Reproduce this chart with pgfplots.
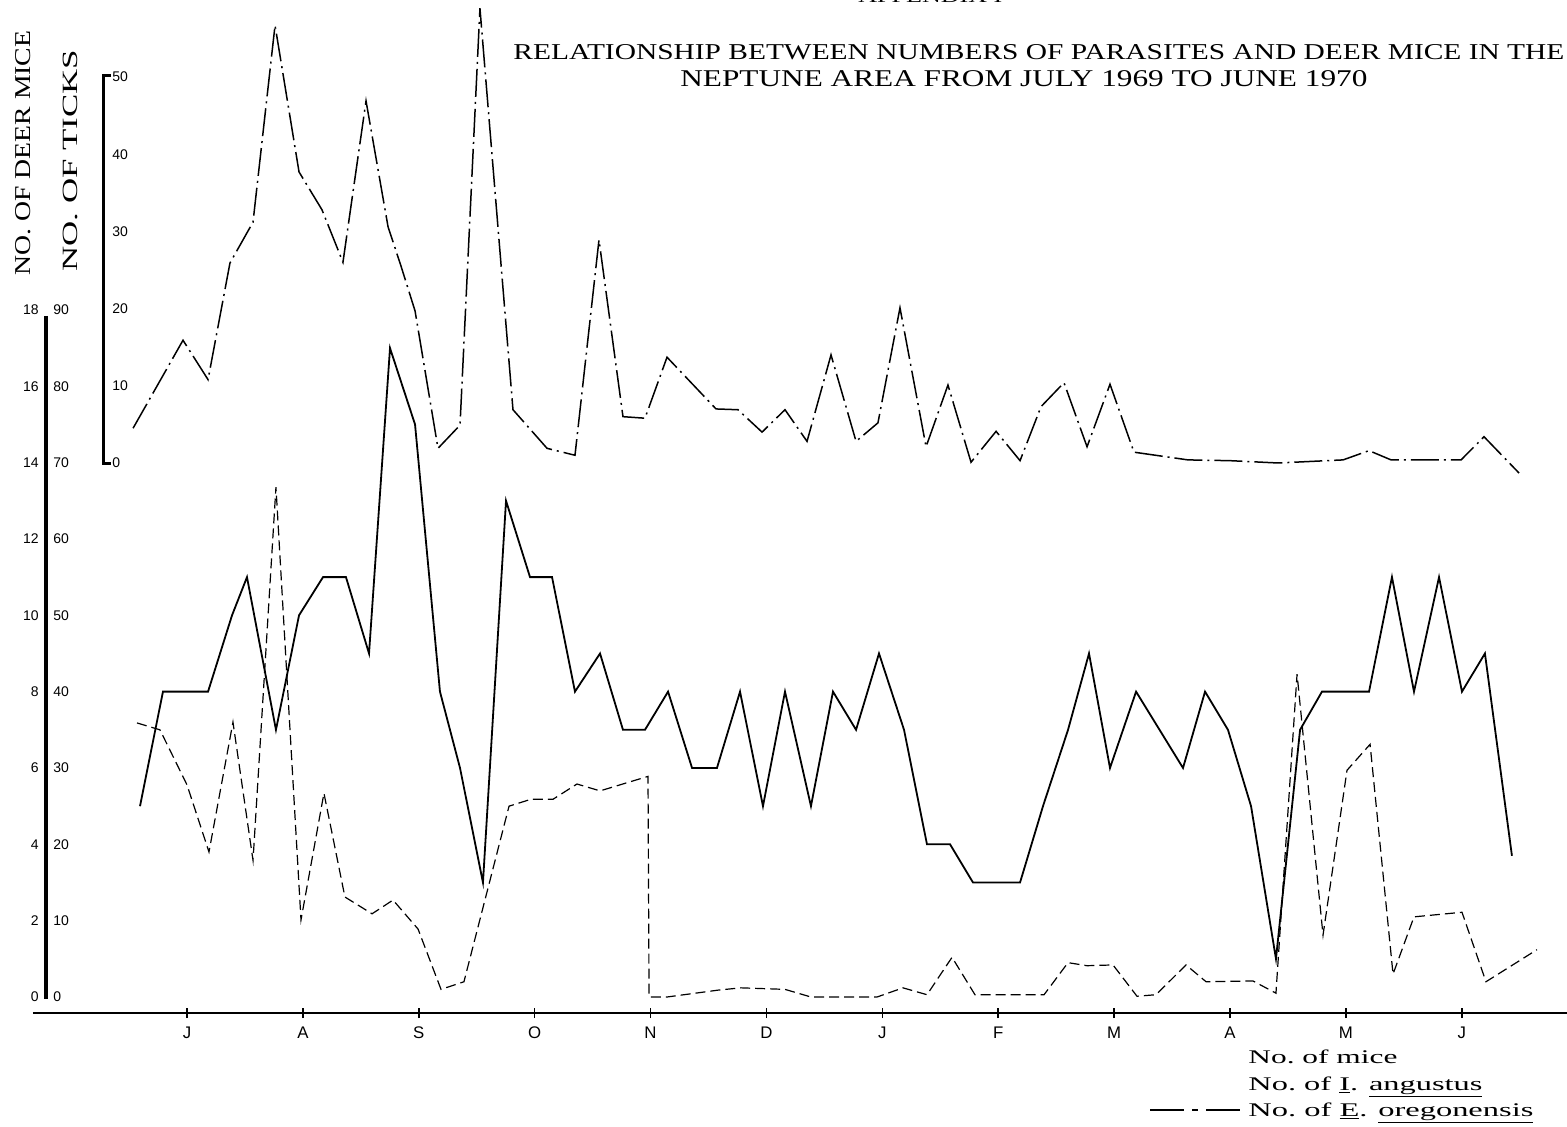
\documentclass[border=0pt]{standalone}
\usepackage{pgfplots}
\pgfplotsset{compat=1.18}
\usepackage{pgfplotstable}
\usepackage{graphicx}
\usepackage{fontspec}
\setmainfont{Liberation Serif}
\setsansfont{Liberation Sans}
\newcommand\numfont{\sffamily\fontsize{7}{7}\selectfont}

% x = months from 1 July 1969 (month labels at mid-month)
\pgfplotstableread{
x m
0.095 5
0.293 8
0.682 8
0.889 10
1.018 11
1.268 7
1.467 10
1.674 11
1.872 11
2.071 9
2.252 17
2.468 15
2.683 8
2.856 6
3.054 3
3.253 13
3.460 11
3.650 11
3.848 8
4.064 9
4.262 7
4.452 7
4.651 8
4.858 6
5.073 6
5.272 8
5.470 5
5.660 8
5.884 5
6.074 8
6.273 7
6.471 9
6.687 7
6.885 4
7.084 4
7.282 3
7.481 3
7.688 3
7.886 5
8.102 7
8.283 9
8.464 6
8.689 8
9.094 6
9.284 8
9.482 7
9.681 5
9.896 1
10.104 7
10.293 8
10.492 8
10.699 8
10.897 11
11.087 8
11.303 11
11.501 8
11.699 9
11.932 3.7
}\micedata

\pgfplotstableread{
x t
0.035 4.5
0.466 15.9
0.682 10.8
0.871 25.9
1.070 31.2
1.260 56.7
1.467 37.7
1.665 32.8
1.846 26.0
2.045 46.9
2.235 30.6
2.347 25.5
2.468 19.7
2.666 1.9
2.856 4.9
3.028 58.9
3.313 6.9
3.607 1.9
3.848 1.0
4.055 28.9
4.262 6.0
4.452 5.8
4.642 13.7
5.065 7.0
5.254 6.9
5.462 4.0
5.660 6.9
5.850 2.8
6.057 14.0
6.273 2.8
6.462 5.2
6.652 20.1
6.877 2.1
7.066 10.1
7.265 0.1
7.481 4.1
7.688 0.3
7.869 7.3
8.067 10.4
8.266 2.1
8.464 10.2
8.671 1.4
9.137 0.4
9.500 0.3
9.914 0.0
10.475 0.4
10.699 1.6
10.889 0.4
11.493 0.4
11.691 3.4
11.993 -1.3
}\tickdata

\pgfplotstableread{
x p
0.069 35.9
0.267 35.0
0.500 27.8
0.690 19.0
0.897 36.0
1.070 17.9
1.268 66.8
1.484 10.1
1.682 26.7
1.863 13.1
2.097 10.9
2.278 12.7
2.494 8.9
2.692 1.0
2.890 2.0
3.279 25.0
3.468 25.9
3.658 25.9
3.865 27.9
4.064 27.0
4.478 28.9
4.487 0.0
4.642 0.0
5.082 0.9
5.280 1.2
5.660 1.0
5.884 0.0
6.454 0.0
6.678 1.2
6.885 0.3
7.101 5.2
7.299 0.3
7.895 0.3
8.102 4.5
8.266 4.1
8.490 4.2
8.697 0.1
8.861 0.3
9.120 4.2
9.293 2.0
9.698 2.1
9.896 0.5
10.078 42.3
10.302 8.1
10.509 29.7
10.708 33.1
10.906 3.0
11.087 10.5
11.501 11.1
11.708 2.0
12.148 6.2
}\oregdata

\begin{document}
\begin{tikzpicture}
\pgfplotsset{
  base/.style={
    at={(16.5pt,56.5pt)}, anchor=south west,
    scale only axis, width=767pt, height=506.5pt,
    xmin=-0.8283, xmax=12.4072,
    clip=false,
  }
}
% deer mice (0-18) with the month axis
\begin{axis}[base, ymin=-0.41918, ymax=26.1200,
  axis x line=bottom, axis y line=none,
  x axis line style={-, line width=1pt},
  xtick={0.5,1.5,2.5,3.5,4.5,5.5,6.5,7.5,8.5,9.5,10.5,11.5},
  xticklabels={J,A,S,O,N,D,J,F,M,A,M,J},
  tick align=center, major tick length=5pt,
  tick style={line width=0.8pt, black},
  xticklabel style={font=\sffamily\fontsize{8.4}{8.4}\selectfont, yshift=-1pt},
]
\addplot[black, line width=0.9pt] table[x=x,y=m]{\micedata};
\end{axis}
% E. oregonensis (0-90 scale)
\begin{axis}[base, ymin=-2.09589, ymax=130.600, hide axis]
\addplot[black, line width=0.6pt, dash pattern=on 5pt off 2.5pt] table[x=x,y=p]{\oregdata};
\end{axis}
% ticks, I. angustus (0-50 scale)
\begin{axis}[base, ymin=-71.2435, ymax=59.9741, hide axis]
\addplot[black, line width=0.75pt, dash pattern=on 14pt off 2.5pt on 1pt off 2.5pt] table[x=x,y=t]{\tickdata};
\end{axis}

\begin{scope}[x=0.5pt,y=-0.5pt,yshift=563pt]
  % deer-mice / parasites axis
  \draw[line width=2pt] (46,316) -- (46,999);
  \foreach \m/\p/\py in {0/0/997,2/10/920.7,4/20/844.3,6/30/768,8/40/691.6,10/50/615.3,12/60/539,14/70/462.6,16/80/386.3,18/90/309.9}{
    \node[anchor=east, inner sep=0, font=\numfont] at (39,\py) {\m};
    \node[anchor=west, inner sep=0, font=\numfont] at (53,\py) {\p};
  }
  % ticks axis
  \draw[line width=1.5pt] (111,76) -- (103,76) -- (103,464) -- (111,464);
  \foreach \t/\py in {0/463,10/385.8,20/308.6,30/231.4,40/154.2,50/77}{
    \node[anchor=west, inner sep=0, font=\numfont] at (112,\py) {\t};
  }
  % axis titles
  \node[rotate=90, anchor=base west, inner sep=0] at (30,276) {\resizebox{122.5pt}{7.5pt}{NO. OF DEER MICE}};
  \node[rotate=90, anchor=base west, inner sep=0] at (77,272) {\resizebox{111pt}{7.2pt}{NO. OF TICKS}};
  % headings
  \node[anchor=base west, inner sep=0] at (858,3) {\resizebox{72pt}{6pt}{APPENDIX I}};
  \node[anchor=base west, inner sep=0] at (513,60) {\resizebox{525.5pt}{7.5pt}{RELATIONSHIP BETWEEN NUMBERS OF PARASITES AND DEER MICE IN THE}};
  \node[anchor=base west, inner sep=0] at (680,87) {\resizebox{343.5pt}{8pt}{NEPTUNE AREA FROM JULY 1969 TO JUNE 1970}};
  % legend
  \node[anchor=base west, inner sep=0] at (1248,1063) {\resizebox{74.5pt}{6.8pt}{No.\ of mice}};
  \node[anchor=base west, inner sep=0] at (1248,1090) {\resizebox{117pt}{6.8pt}{No.\ of \underline{I}. \underline{angustus}}};
  \node[anchor=base west, inner sep=0] at (1248,1116) {\resizebox{142.5pt}{6.8pt}{No.\ of \underline{E}. \underline{oregonensis}}};
  \draw[line width=0.8pt, dash pattern=on 17pt off 4pt on 3pt off 4pt] (1150,1110) -- (1244,1110);
\end{scope}
\pgfresetboundingbox
\path[use as bounding box] (0,0) rectangle (783.5pt,563pt);
\end{tikzpicture}
\end{document}
